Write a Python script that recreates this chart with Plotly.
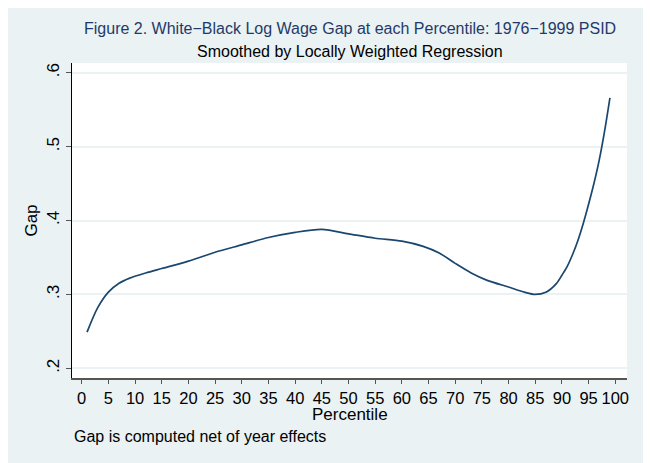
import plotly.graph_objects as go

# smoothed white-black log wage gap
percentile = [1, 3, 5, 7, 9, 12, 15, 20, 25, 30, 35, 40, 45, 50, 55, 60, 64, 67,
              70, 73, 76, 80, 83, 85, 87, 89, 90, 91, 92, 93, 94, 95, 96, 97, 98, 99]
gap = [0.249, 0.282, 0.303, 0.315, 0.322, 0.329, 0.335, 0.345, 0.357, 0.367,
       0.377, 0.384, 0.388, 0.382, 0.376, 0.372, 0.365, 0.356, 0.342, 0.329,
       0.319, 0.310, 0.303, 0.300, 0.303, 0.315, 0.326, 0.338, 0.354, 0.373,
       0.396, 0.422, 0.450, 0.482, 0.521, 0.566]

x_ticks = list(range(0, 101, 5))
y_ticks = [0.2, 0.3, 0.4, 0.5, 0.6]
y_labels = [".2", ".3", ".4", ".5", ".6"]

title = "Figure 2. White\u2212Black Log Wage Gap at each Percentile: 1976\u22121999 PSID"
subtitle = "Smoothed by Locally Weighted Regression"
x_title = "Percentile"
note = "Gap is computed net of year effects"

BG = "#eaf2f3"
FONT = "Liberation Sans, Arial, sans-serif"

fig = go.Figure()
fig.add_trace(go.Scatter(
    x=percentile, y=gap, mode="lines",
    line=dict(color="#1a476f", width=1.7, shape="spline", smoothing=0.8),
    showlegend=False, hoverinfo="skip",
))

fig.update_layout(
    width=635, height=455,
    margin=dict(l=64, r=16, t=55, b=85),
    paper_bgcolor=BG, plot_bgcolor="white",
    font=dict(family=FONT, size=17, color="black"),
    xaxis=dict(
        range=[-1.82, 102.2], tickvals=x_ticks, ticks="outside", ticklen=4,
        tickwidth=1.2, tickcolor="#555555", showgrid=False, zeroline=False,
        showline=True, linecolor="#555555", linewidth=1.5,
        tickfont=dict(size=16.5),
    ),
    yaxis=dict(
        range=[0.1869, 0.6131], tickvals=y_ticks, ticktext=y_labels,
        tickangle=-90, ticks="outside", ticklen=5, tickwidth=1.2,
        tickcolor="#555555", showgrid=True, gridcolor=BG, gridwidth=1.5,
        zeroline=False, showline=True, linecolor="black", linewidth=1.2,
        tickfont=dict(size=17), title=dict(text="Gap", standoff=2,
                                           font=dict(size=17)),
    ),
    annotations=[
        dict(text=title, xref="paper", yref="paper", x=0.5, y=1.1095,
             xanchor="center", yanchor="middle", showarrow=False,
             font=dict(size=16, color="#1f3a6a")),
        dict(text=subtitle, xref="paper", yref="paper", x=0.5, y=1.038,
             xanchor="center", yanchor="middle", showarrow=False,
             font=dict(size=16, color="black")),
        dict(text=x_title, xref="paper", yref="paper", x=0.5, y=-0.117,
             xanchor="center", yanchor="middle", showarrow=False,
             font=dict(size=17, color="black")),
        dict(text=note, xref="paper", yref="paper", x=0.0, y=-0.186,
             xanchor="left", yanchor="middle", showarrow=False,
             font=dict(size=16, color="black")),
    ],
)

fig.write_html("out.html")
